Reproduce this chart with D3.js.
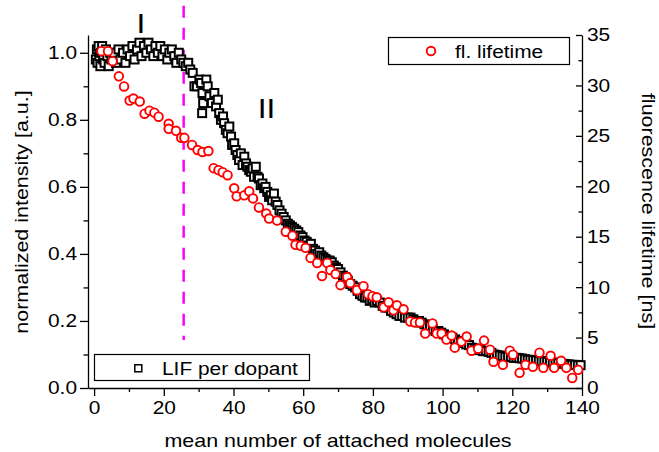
<!DOCTYPE html>
<meta charset="utf-8">
<head>
<style>
body { margin: 0; background: #fff; }
text { font-family: "Liberation Sans", Arial, sans-serif; fill: #000; }
.axis path, .axis line { fill: none; stroke: #000; stroke-width: 1.3; }
</style>
</head>
<body>
<script src="https://cdnjs.cloudflare.com/ajax/libs/d3/7.8.5/d3.min.js"></script>
<script>

// LIF per dopant (normalized intensity), [molecules, value]
const lifPoints = [
  [0.5,0.98],[0.8,1.01],[1.0,0.97],[1.3,1.02],[1.5,0.99],[1.8,0.96],[2.0,1.00],[2.3,1.02],
  [2.6,0.98],[3.0,0.97],[3.4,1.01],[3.8,0.99],[4.2,0.96],[4.6,1.00],[5.0,0.98],[5.6,1.00],
  [6.3,0.97],[7.0,1.01],[7.6,0.98],[8.3,1.00],[9.0,0.97],[9.6,1.01],[10.3,0.99],[11.0,1.02],
  [11.6,0.98],[12.3,1.01],[13.0,1.03],[13.6,0.99],[14.3,1.02],[15.0,1.00],[15.6,1.03],[16.3,1.01],
  [17.0,0.99],[17.6,1.02],[18.3,1.00],[19.0,1.02],[19.6,0.99],[20.3,1.01],[21.0,0.98],[21.6,1.00],
  [22.3,1.01],[23.0,0.99],[23.6,0.97],[24.3,1.00],[25.0,0.98],[25.6,0.97],[26.3,0.96],[27.0,0.97],
  [27.6,0.95],[28.3,0.94],[28.8,0.90],[29.5,0.90],[30.2,0.92],[30.7,0.91],[31.0,0.82],[31.1,0.88],
  [31.3,0.85],[32.2,0.92],[32.6,0.90],[33.1,0.87],[33.8,0.85],[34.5,0.88],[35.0,0.84],[35.5,0.86],
  [35.9,0.82],[36.4,0.80],[37.0,0.81],[37.3,0.79],[37.8,0.77],[38.3,0.76],[38.8,0.78],[39.3,0.75],
  [39.6,0.725],[40.2,0.73],[40.6,0.71],[41.1,0.695],[41.6,0.68],[42.1,0.70],[42.6,0.665],[43.1,0.69],
  [43.6,0.67],[44.0,0.66],[44.5,0.65],[45.0,0.645],[45.5,0.655],[45.9,0.63],[46.4,0.66],[46.9,0.63],
  [47.3,0.625],[47.8,0.605],[48.3,0.61],[48.8,0.596],[49.2,0.60],[49.7,0.585],[50.2,0.57],[50.7,0.575],
  [51.1,0.56],[51.6,0.58],[52.1,0.556],[52.6,0.546],[53.2,0.53],[53.8,0.52],[54.4,0.51],[55.0,0.50],
  [55.6,0.49],[56.2,0.485],[56.8,0.48],[57.4,0.475],[58.0,0.47],[58.6,0.465],[59.2,0.455],[59.8,0.45],
  [60.4,0.44],[61.0,0.436],[61.6,0.425],[62.2,0.43],[62.8,0.415],[63.4,0.41],[64.0,0.40],[64.6,0.405],
  [65.2,0.395],[65.8,0.39],[66.4,0.385],[67.0,0.38],[67.6,0.38],[68.2,0.375],[68.8,0.365],[69.4,0.36],
  [70.0,0.355],[70.7,0.345],[71.4,0.335],[72.1,0.33],[72.8,0.32],[73.5,0.31],[74.2,0.305],[74.9,0.30],
  [75.6,0.29],[76.3,0.28],[77.0,0.275],[77.7,0.27],[78.4,0.27],[79.1,0.26],[79.8,0.265],[80.5,0.255],
  [81.2,0.26],[82.0,0.255],[82.8,0.245],[83.6,0.24],[84.4,0.24],[85.2,0.23],[86.0,0.225],[86.8,0.22],
  [87.6,0.215],[88.4,0.215],[89.2,0.21],[90.0,0.21],[90.8,0.21],[91.6,0.205],[92.4,0.20],[93.2,0.20],
  [94.0,0.195],[94.8,0.19],[95.6,0.185],[96.4,0.185],[97.2,0.175],[98.0,0.17],[98.8,0.17],[99.6,0.165],
  [100.4,0.16],[101.2,0.155],[102.0,0.15],[102.8,0.15],[103.6,0.145],[104.4,0.14],[105.2,0.135],[106.0,0.135],
  [106.8,0.13],[107.6,0.128],[108.4,0.12],[109.2,0.118],[110.0,0.113],[110.8,0.115],[111.6,0.11],[112.4,0.11],
  [113.2,0.108],[114.0,0.105],[114.8,0.10],[115.6,0.098],[116.4,0.097],[117.2,0.095],[118.0,0.093],[118.8,0.093],
  [119.6,0.092],[120.4,0.09],[121.2,0.09],[122.0,0.089],[122.8,0.088],[123.6,0.086],[124.4,0.084],[125.2,0.084],
  [126.0,0.083],[126.8,0.082],[127.6,0.081],[128.4,0.080],[129.2,0.079],[130.0,0.078],[130.8,0.077],[131.6,0.076],
  [132.4,0.075],[133.2,0.074],[134.0,0.072],[134.8,0.072],[135.6,0.071],[136.4,0.070],[137.2,0.069],[138.0,0.069],
  [138.8,0.068],[139.6,0.068]
];

// fluorescence lifetime [ns]
const tauX = [2.1,4.0,5.3,7.1,8.6,10.2,11.3,13.1,14.5,15.9,
  17.3,18.5,21.4,21.4,23.5,25.0,25.9,28.1,29.7,31.1,
  32.8,34.3,35.7,36.9,38.3,40.2,40.9,43.1,44.5,45.6,
  47.3,49.4,50.2,52.5,55.0,56.9,57.8,59.3,60.7,62.1,
  64.0,65.4,66.9,67.8,69.3,70.7,72.6,73.5,75.4,77.3,
  78.6,79.9,81.1,83.1,84.5,85.9,86.9,88.8,90.7,92.1,
  93.5,95.0,97.1,98.3,99.7,101.1,102.6,103.5,105.4,106.9,
  108.3,110.2,111.9,113.6,114.6,117.3,119.3,120.2,122.1,123.8,
  125.9,127.8,128.9,131.0,132.0,134.0,135.5,137.2,138.9];
const tauY = [33.4,33.4,32.4,30.9,29.9,28.5,28.7,28.4,27.2,27.5,
  27.3,26.9,26.2,25.7,25.5,24.8,24.8,24.1,23.6,23.4,
  23.5,21.8,21.6,21.4,21.1,19.8,19.0,19.1,19.5,18.8,
  17.9,17.3,16.8,16.6,15.5,15.1,14.2,14.1,13.9,12.9,
  12.4,11.1,12.4,11.7,11.3,10.2,11.0,10.4,9.7,10.1,
  9.3,9.1,9.0,8.0,8.5,7.7,8.2,7.8,6.6,6.5,
  6.5,5.4,6.4,5.4,5.4,4.8,5.2,4.0,4.6,5.1,
  3.7,3.9,4.7,3.8,2.6,2.3,3.7,3.3,1.5,2.3,
  2.1,3.5,2.0,3.2,2.0,2.7,2.0,1.0,1.8];

const xTicks = [0, 20, 40, 60, 80, 100, 120, 140];
const xMinor = [10, 30, 50, 70, 90, 110, 130];
const yLeftTicks = [0.0, 0.2, 0.4, 0.6, 0.8, 1.0];
const yLeftMinor = [0.1, 0.3, 0.5, 0.7, 0.9];
const yRightTicks = [0, 5, 10, 15, 20, 25, 30, 35];
const yRightMinor = [2.5, 7.5, 12.5, 17.5, 22.5, 27.5, 32.5];

const divider = {x: 25.7, from: 0.143, to: 1.14};
const regionLabels = [["I", 13.4, 1.058], ["II", 49.5, 0.805]];

const width = 659, height = 452;
const sx = 1.13; // glyphs in the source are a bit wider than Arial

const x = d3.scaleLinear().domain([-1.75, 140]).range([88, 582]);
const yL = d3.scaleLinear().domain([0, 1.053]).range([388, 35]);
const yR = d3.scaleLinear().domain([0, 35]).range([388, 35]);

const svg = d3.select("body").append("svg")
  .attr("width", width)
  .attr("height", height);

function stretch(sel) {
  sel.each(function() {
    const t = d3.select(this);
    const tx = +t.attr("x") || 0;
    t.attr("x", tx / sx).attr("transform", "scale(" + sx + ",1)");
  });
}

// axes
svg.append("g").attr("class", "axis")
  .attr("transform", "translate(0,388)")
  .call(d3.axisBottom(x).tickValues(xTicks).tickSize(8).tickSizeOuter(0).tickPadding(5));
svg.append("g").attr("class", "axis")
  .attr("transform", "translate(0,388)")
  .call(d3.axisBottom(x).tickValues(xMinor).tickSize(4).tickFormat(""))
  .select(".domain").remove();

svg.append("g").attr("class", "axis")
  .attr("transform", "translate(88,0)")
  .call(d3.axisLeft(yL).tickValues(yLeftTicks).tickFormat(d3.format(".1f"))
    .tickSize(8).tickSizeOuter(0).tickPadding(3));
svg.append("g").attr("class", "axis")
  .attr("transform", "translate(88,0)")
  .call(d3.axisLeft(yL).tickValues(yLeftMinor).tickSize(4.5).tickFormat(""))
  .select(".domain").remove();

svg.append("g").attr("class", "axis")
  .attr("transform", "translate(582,0)")
  .call(d3.axisRight(yR).tickValues(yRightTicks).tickSize(-6).tickSizeOuter(0).tickPadding(5));
svg.append("g").attr("class", "axis")
  .attr("transform", "translate(582,0)")
  .call(d3.axisRight(yR).tickValues(yRightMinor).tickSize(-3.5).tickFormat(""))
  .select(".domain").remove();

svg.selectAll(".axis text")
  .style("font-size", "18.5px")
  .style("font-family", "'Liberation Sans', Arial, sans-serif")
  .attr("fill", "#000");
svg.selectAll(".axis text").call(stretch);

// axis titles (stretch along the text direction)
function title(txt, tx, ty, rot) {
  svg.append("g")
    .attr("transform", "translate(" + tx + "," + ty + ") rotate(" + rot + ") scale(" + sx + ",1)")
    .append("text")
      .attr("text-anchor", "middle")
      .style("font-size", "19px")
      .text(txt);
}
title("mean number of attached molecules", 338, 447, 0);
title("normalized intensity [a.u.]", 28, 212, -90);
title("fluorescence lifetime [ns]", 641.5, 211, 90);

// divider between regions
svg.append("line")
  .attr("x1", x(divider.x)).attr("x2", x(divider.x))
  .attr("y1", yL(divider.to)).attr("y2", yL(divider.from))
  .attr("stroke", "#ff00ff")
  .attr("stroke-width", 2.5)
  .attr("stroke-dasharray", "12,10");

regionLabels.forEach(d => {
  svg.append("g")
    .attr("transform", "translate(" + x(d[1]) + "," + yL(d[2]) + ") scale(" + sx + ",1)")
    .append("text")
      .attr("text-anchor", "middle")
      .style("font-size", "28px")
      .text(d[0]);
});

// LIF squares
const sq = 8;
svg.append("g")
  .selectAll("rect")
  .data(lifPoints)
  .join("rect")
    .attr("x", d => x(d[0]) - sq / 2)
    .attr("y", d => yL(d[1]) - sq / 2)
    .attr("width", sq)
    .attr("height", sq)
    .attr("fill", "#fff")
    .attr("stroke", "#000")
    .attr("stroke-width", 2);

// lifetime circles
svg.append("g")
  .selectAll("circle")
  .data(d3.zip(tauX, tauY))
  .join("circle")
    .attr("cx", d => x(d[0]))
    .attr("cy", d => yR(d[1]))
    .attr("r", 4.3)
    .attr("fill", "#fff")
    .attr("stroke", "#ff0000")
    .attr("stroke-width", 1.9);

// legends
const legTop = svg.append("g");
legTop.append("rect")
  .attr("x", 388.5).attr("y", 37.5).attr("width", 181).attr("height", 27)
  .attr("fill", "#fff").attr("stroke", "#000").attr("stroke-width", 1.2);
legTop.append("circle")
  .attr("cx", 431).attr("cy", 51).attr("r", 4.3)
  .attr("fill", "#fff").attr("stroke", "#ff0000").attr("stroke-width", 1.9);
legTop.append("g")
  .attr("transform", "translate(455,57.5) scale(" + sx + ",1)")
  .append("text").style("font-size", "18.5px").text("fl. lifetime");

const legBot = svg.append("g");
legBot.append("rect")
  .attr("x", 94.5).attr("y", 354.5).attr("width", 215).attr("height", 26)
  .attr("fill", "#fff").attr("stroke", "#000").attr("stroke-width", 1.2);
legBot.append("rect")
  .attr("x", 134.8).attr("y", 364.8).attr("width", 7).attr("height", 7)
  .attr("fill", "#fff").attr("stroke", "#000").attr("stroke-width", 1.5);
legBot.append("g")
  .attr("transform", "translate(162,374.5) scale(" + sx + ",1)")
  .append("text").style("font-size", "18.5px").text("LIF per dopant");

</script>
</body>
